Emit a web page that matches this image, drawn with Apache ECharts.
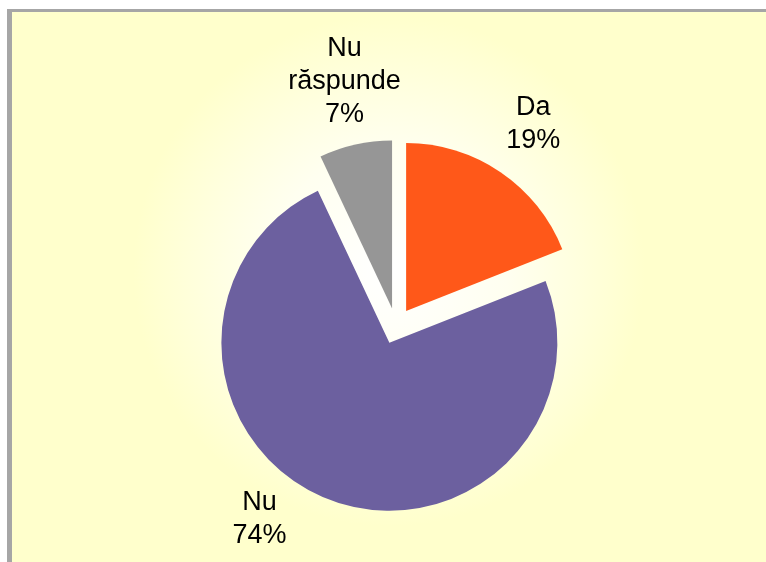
<!DOCTYPE html>
<html><head><meta charset="utf-8">
<script src="https://cdn.jsdelivr.net/npm/echarts@6/dist/echarts.min.js"></script>
<style>html,body{margin:0;padding:0;background:#fff;overflow:hidden}#c{width:766px;height:562px}</style>
</head><body><div id="c"></div>
<script>
const categories = ['Da', 'Nu', 'Nu răspunde'];
const values = [19, 74, 7];
const sliceColors = ['#FF5819', '#6C609F', '#969696'];

const labelLines = [
  { length: 58, length2: -5 },
  { length: 22, length2: 55 },
  { length: 64, length2: -8 }
];

const chart = echarts.init(document.getElementById('c'), null, { renderer: 'canvas' });
const option = {
  animation: false,
  graphic: [
    { type: 'rect', z: -9, silent: true, shape: { x: 12, y: 12, width: 754, height: 550 },
      style: { fill: { type: 'radial', x: 0.5, y: 0.47, r: 0.62, global: false,
        colorStops: [{ offset: 0, color: '#FFFFFF' }, { offset: 0.35, color: '#FFFFF0' }, { offset: 0.75, color: '#FFFFCC' }, { offset: 1, color: '#FFFFCC' }] } } },
    { type: 'rect', z: -8, silent: true, shape: { x: 7, y: 9, width: 759, height: 3 }, style: { fill: '#A6A6A6' } },
    { type: 'rect', z: -8, silent: true, shape: { x: 7, y: 9, width: 5, height: 553 }, style: { fill: '#A6A6A6' } }
  ],
  series: [{
    type: 'pie',
    center: [396, 326],
    radius: [0, 168],
    startAngle: 90,
    clockwise: true,
    selectedMode: 'multiple',
    selectedOffset: 18,
    avoidLabelOverlap: false,
    itemStyle: { borderWidth: 0 },
    emphasis: { disabled: true },
    label: {
      show: true,
      position: 'outside',
      fontFamily: 'Liberation Sans, Arial, sans-serif',
      fontSize: 27,
      lineHeight: 33,
      color: '#000',
      formatter: p => p.name.replace(' ', '\n') + '\n' + p.value + '%'
    },
    labelLine: { show: true, lineStyle: { opacity: 0 } },
    labelLayout: function (p) {
      const pts = p.labelLinePoints;
      if (pts && pts.length >= 3) {
        return { x: pts[2][0], y: pts[2][1], align: 'center', verticalAlign: 'middle' };
      }
      return { x: p.labelRect.x + p.labelRect.width / 2, y: p.labelRect.y + p.labelRect.height / 2, align: 'center', verticalAlign: 'middle' };
    },
    data: categories.map((c, i) => ({
      name: c,
      value: values[i],
      selected: true,
      itemStyle: { color: sliceColors[i] },
      labelLine: labelLines[i]
    }))
  }]
};
chart.setOption(option);
</script></body></html>
